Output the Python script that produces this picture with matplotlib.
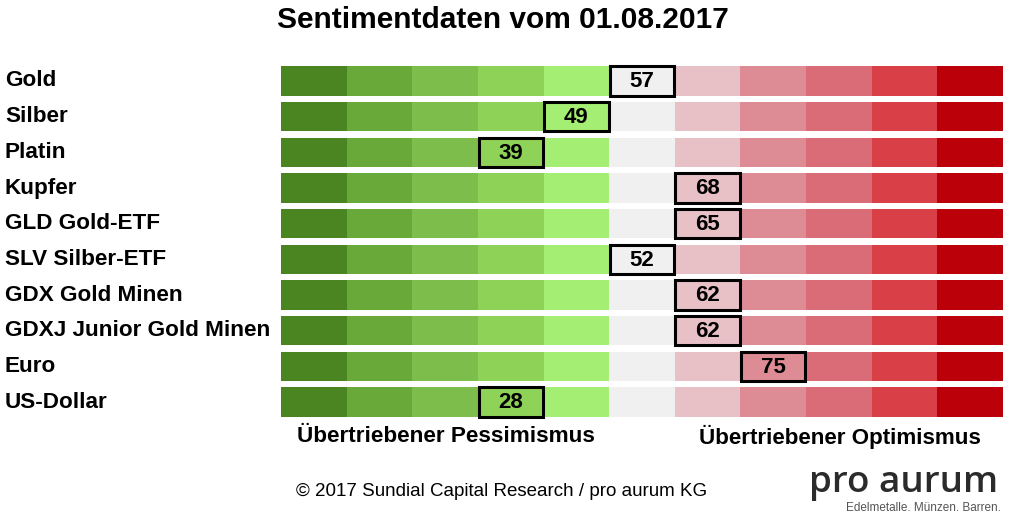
import numpy as np
import matplotlib
matplotlib.use("Agg")
import matplotlib.pyplot as plt
from matplotlib.patches import Rectangle

plt.rcParams['font.family'] = ['Liberation Sans', 'DejaVu Sans']

# ---- data ----
assets = ["Gold", "Silber", "Platin", "Kupfer", "GLD Gold-ETF", "SLV Silber-ETF",
          "GDX Gold Minen", "GDXJ Junior Gold Minen", "Euro", "US-Dollar"]
values = [57, 49, 39, 68, 65, 52, 62, 62, 75, 28]
zone_edges = [10, 20, 25, 40, 50, 60, 70, 80, 90, 100]
zone_colors = ["#4b8522", "#68a939", "#7cbd4b", "#8fd258", "#a5ee74",
               "#f0f0f0",
               "#e8c1c7", "#dd8b94", "#d96c76", "#d93f46", "#bb0009"]
title = "Sentimentdaten vom 01.08.2017"
left_label = "Übertriebener Pessimismus"
right_label = "Übertriebener Optimismus"
footer = "© 2017 Sundial Capital Research / pro aurum KG"

W, H = 1010, 520
fig = plt.figure(figsize=(W / 100, H / 100), dpi=100)
fig.patch.set_facecolor("white")

n = len(assets)
pitch = 35.67
top_px = 81 - pitch / 2
bot_px = 81 + (n - 1) * pitch + pitch / 2
ax = fig.add_axes([281 / W, 1 - bot_px / H, (1003 - 281) / W, (bot_px - top_px) / H])
ax.set_xlim(0, len(zone_colors))
ax.set_ylim(n - 0.5, -0.5)
ax.axis("off")

bh = 0.82
for i in range(n):
    ax.barh([i] * len(zone_colors), [1] * len(zone_colors),
            left=np.arange(len(zone_colors)), height=bh,
            color=zone_colors, edgecolor="none")
    idx = int(np.searchsorted(zone_edges, values[i], side="right"))
    ax.add_patch(Rectangle((idx + 0.01, i - bh / 2 + 0.0), 0.98, bh,
                           facecolor=zone_colors[idx], edgecolor="black",
                           linewidth=2.2, zorder=5))
    ax.text(idx + 0.5, i + 0.02, str(values[i]), ha="center", va="center",
            fontsize=16, fontweight="bold", zorder=6)
    fig.text(5 / W, 1 - (81 + i * pitch) / H, assets[i], ha="left", va="center",
             fontsize=16.2, fontweight="bold")

fig.text(503 / W, 1 - 20 / H, title, ha="center", va="center",
         fontsize=21.5, fontweight="bold")
fig.text(297 / W, 1 - 437 / H, left_label, ha="left", va="center",
         fontsize=16.2, fontweight="bold")
fig.text(981 / W, 1 - 437 / H, right_label, ha="right", va="center",
         fontsize=16.1, fontweight="bold")
fig.text(296 / W, 1 - 492 / H, footer, ha="left", va="center", fontsize=13.5)
fig.text(998 / W, 1 - 492 / H, "pro aurum", ha="right", va="baseline",
         fontsize=26.5, fontweight=600, color="#2b2b2b",
         family=["Open Sans", "DejaVu Sans"])
fig.text(1001 / W, 1 - 508 / H, "Edelmetalle. Münzen. Barren.", ha="right",
         va="center", fontsize=8.5, color="#555555")

fig.savefig("out.png", dpi=100, facecolor="white")
